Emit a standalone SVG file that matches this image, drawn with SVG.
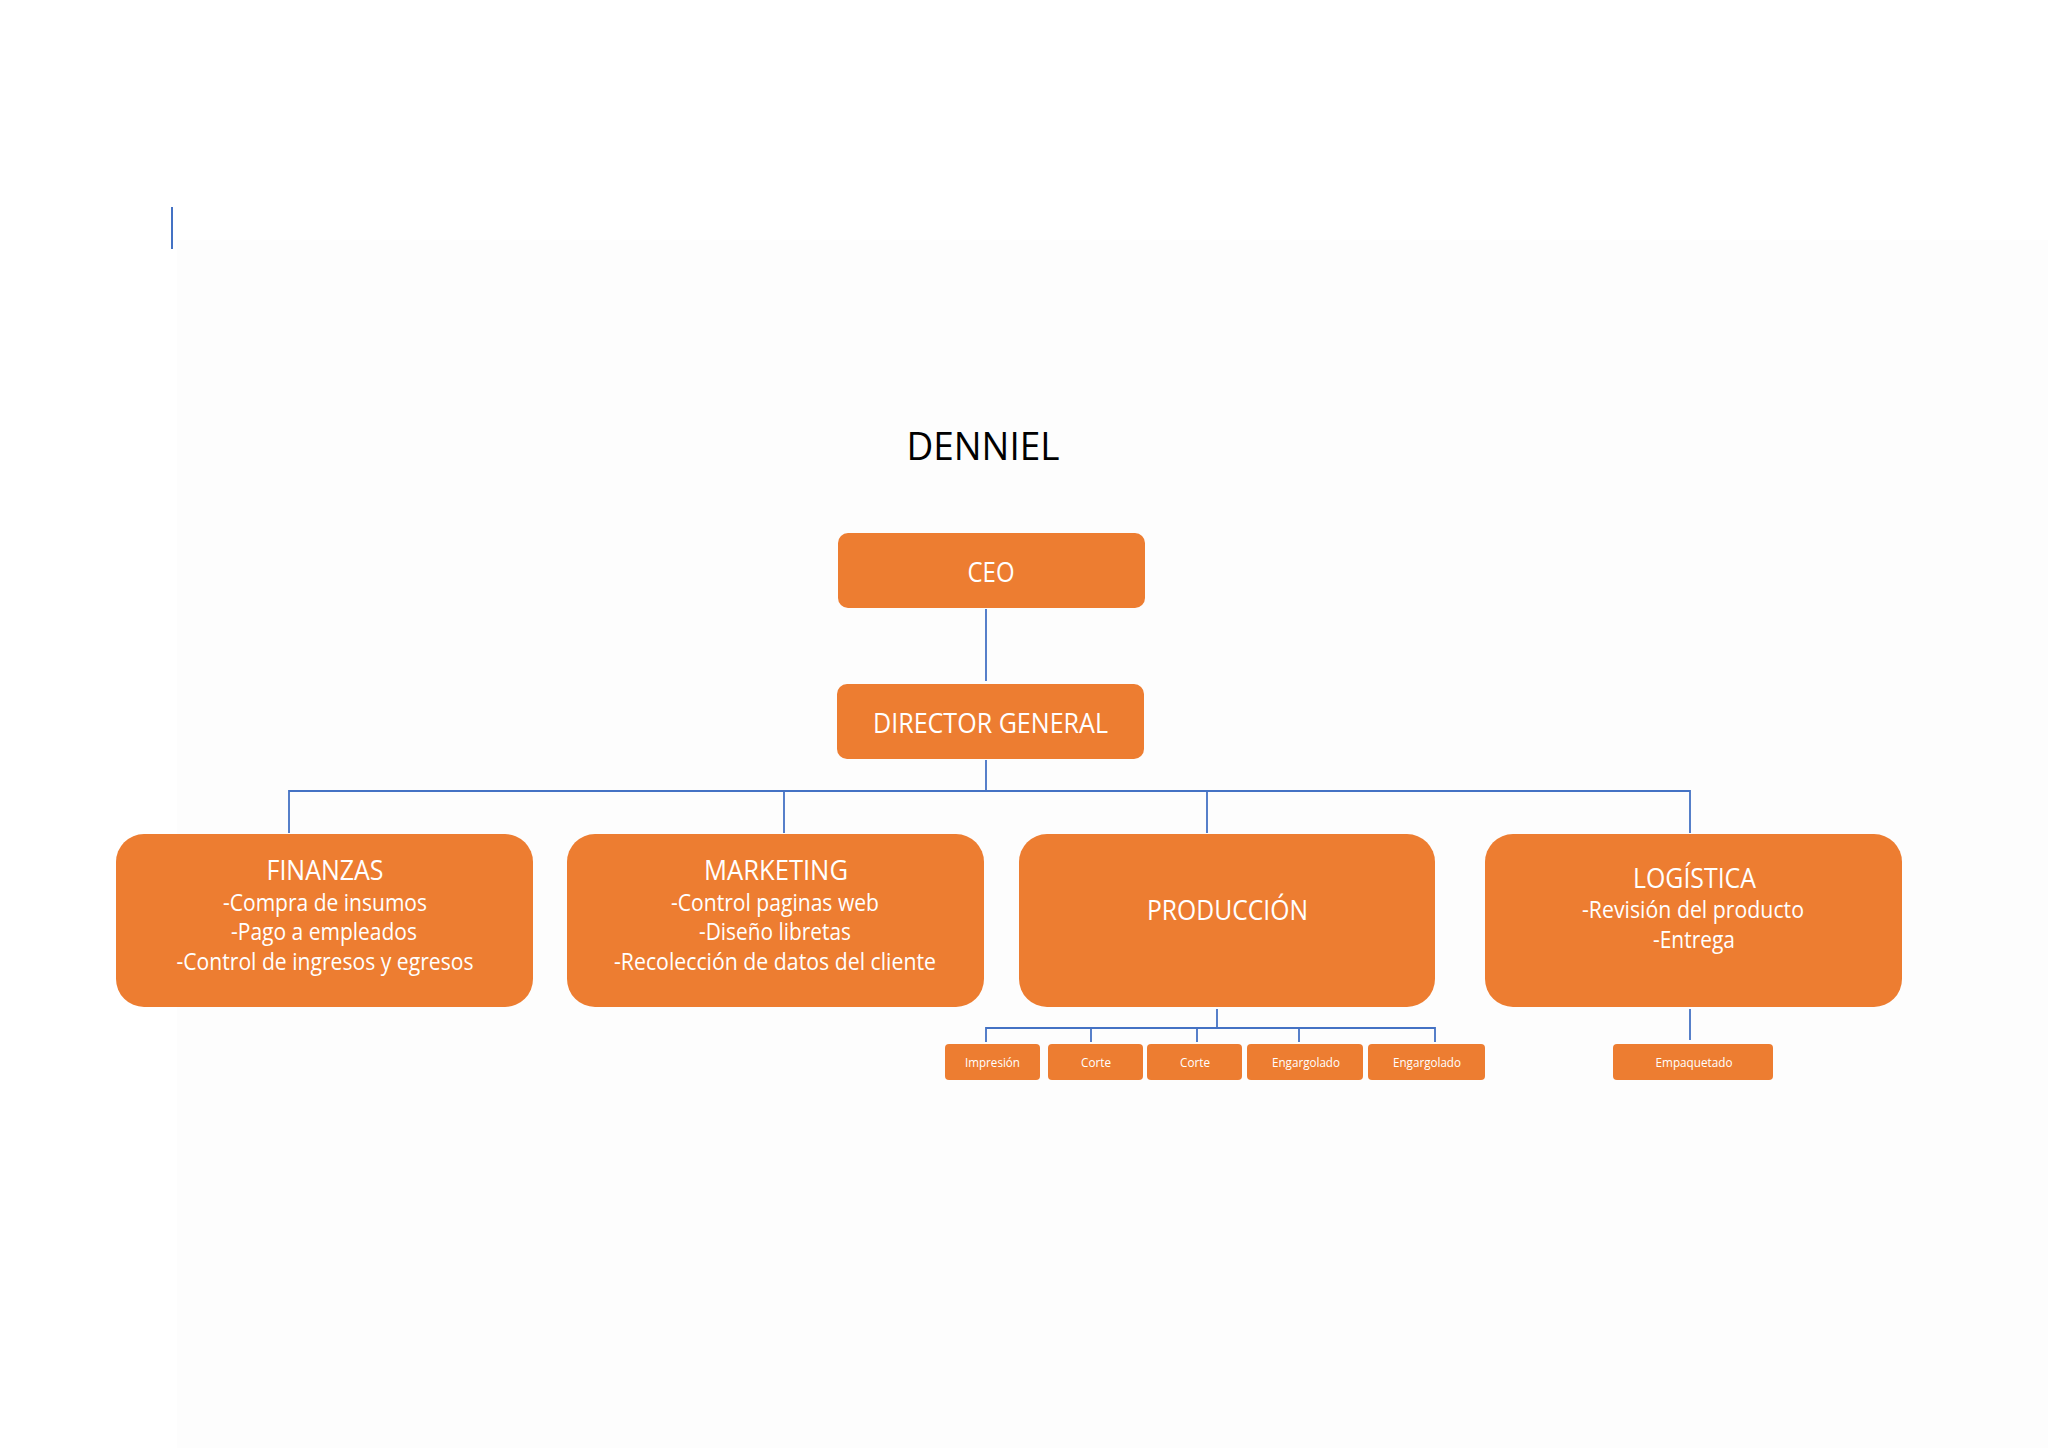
<svg xmlns="http://www.w3.org/2000/svg" width="2048" height="1448" viewBox="0 0 2048 1448">
<style>
.box{fill:#ED7D31;}
.t{font-family:"Open Sans","Liberation Sans",sans-serif;fill:#FFFFFF;text-anchor:middle;}
.ti{font-size:26.5px;}
.bd{font-size:23px;}
.sm{font-size:13px;}
.ln{stroke:#4472C4;stroke-width:1.8;fill:none;}
</style>
<rect x="0" y="0" width="2048" height="1448" fill="#FFFFFF"/>
<rect x="177" y="240" width="1871" height="1208" fill="#FDFDFD"/>
<line x1="172" y1="207" x2="172" y2="249" stroke="#4472C4" stroke-width="2"/>
<text x="983" y="460" font-family="Open Sans, Liberation Sans, sans-serif" font-size="39" fill="#000000" text-anchor="middle" textLength="153" lengthAdjust="spacingAndGlyphs">DENNIEL</text>

<g id="connectors">
<line class="ln" x1="986" y1="609" x2="986" y2="681"/>
<line class="ln" x1="986" y1="760" x2="986" y2="791"/>
<polyline class="ln" points="289,833 289,791 1690,791 1690,833"/>
<line class="ln" x1="784" y1="791" x2="784" y2="833"/>
<line class="ln" x1="1207" y1="791" x2="1207" y2="833"/>
<line class="ln" x1="1217" y1="1009" x2="1217" y2="1028"/>
<polyline class="ln" points="986,1042 986,1028 1435,1028 1435,1042"/>
<line class="ln" x1="1091" y1="1028" x2="1091" y2="1042"/>
<line class="ln" x1="1197" y1="1028" x2="1197" y2="1042"/>
<line class="ln" x1="1299" y1="1028" x2="1299" y2="1042"/>
<line class="ln" x1="1690" y1="1009" x2="1690" y2="1040"/>
</g>

<g id="ceo">
<rect class="box" x="838" y="533" width="307" height="75" rx="10"/>
<text class="t ti" x="991" y="582" textLength="47" lengthAdjust="spacingAndGlyphs">CEO</text>
</g>
<g id="director">
<rect class="box" x="837" y="684" width="307" height="75" rx="10"/>
<text class="t ti" x="990.5" y="733" textLength="235" lengthAdjust="spacingAndGlyphs">DIRECTOR GENERAL</text>
</g>
<g id="finanzas">
<rect class="box" x="116" y="834" width="417" height="173" rx="28"/>
<text class="t ti" x="325" y="880" textLength="117" lengthAdjust="spacingAndGlyphs">FINANZAS</text>
<text class="t bd" x="325" y="911" textLength="204" lengthAdjust="spacingAndGlyphs">-Compra de insumos</text>
<text class="t bd" x="324" y="940" textLength="186" lengthAdjust="spacingAndGlyphs">-Pago a empleados</text>
<text class="t bd" x="325" y="970" textLength="297" lengthAdjust="spacingAndGlyphs">-Control de ingresos y egresos</text>
</g>
<g id="marketing">
<rect class="box" x="567" y="834" width="417" height="173" rx="28"/>
<text class="t ti" x="776" y="880" textLength="144" lengthAdjust="spacingAndGlyphs">MARKETING</text>
<text class="t bd" x="775" y="911" textLength="208" lengthAdjust="spacingAndGlyphs">-Control paginas web</text>
<text class="t bd" x="775" y="940" textLength="152" lengthAdjust="spacingAndGlyphs">-Diseño libretas</text>
<text class="t bd" x="775" y="970" textLength="322" lengthAdjust="spacingAndGlyphs">-Recolección de datos del cliente</text>
</g>
<g id="produccion">
<rect class="box" x="1019" y="834" width="416" height="173" rx="28"/>
<text class="t ti" x="1227.5" y="920" textLength="161" lengthAdjust="spacingAndGlyphs">PRODUCCIÓN</text>
</g>
<g id="logistica">
<rect class="box" x="1485" y="834" width="417" height="173" rx="28"/>
<text class="t ti" x="1694.5" y="888" textLength="123" lengthAdjust="spacingAndGlyphs">LOGÍSTICA</text>
<text class="t bd" x="1693" y="918" textLength="222" lengthAdjust="spacingAndGlyphs">-Revisión del producto</text>
<text class="t bd" x="1694" y="948" textLength="82" lengthAdjust="spacingAndGlyphs">-Entrega</text>
</g>
<g id="impresion">
<rect class="box" x="945" y="1044" width="95" height="36" rx="4"/>
<text class="t sm" x="992.5" y="1067" textLength="55" lengthAdjust="spacingAndGlyphs">Impresión</text>
</g>
<g id="corte1">
<rect class="box" x="1048" y="1044" width="95" height="36" rx="4"/>
<text class="t sm" x="1096" y="1067" textLength="30" lengthAdjust="spacingAndGlyphs">Corte</text>
</g>
<g id="corte2">
<rect class="box" x="1147" y="1044" width="95" height="36" rx="4"/>
<text class="t sm" x="1195" y="1067" textLength="30" lengthAdjust="spacingAndGlyphs">Corte</text>
</g>
<g id="engargolado1">
<rect class="box" x="1247" y="1044" width="116" height="36" rx="4"/>
<text class="t sm" x="1306" y="1067" textLength="68" lengthAdjust="spacingAndGlyphs">Engargolado</text>
</g>
<g id="engargolado2">
<rect class="box" x="1368" y="1044" width="117" height="36" rx="4"/>
<text class="t sm" x="1427" y="1067" textLength="68" lengthAdjust="spacingAndGlyphs">Engargolado</text>
</g>
<g id="empaquetado">
<rect class="box" x="1613" y="1044" width="160" height="36" rx="4"/>
<text class="t sm" x="1694" y="1067" textLength="77" lengthAdjust="spacingAndGlyphs">Empaquetado</text>
</g>
</svg>
